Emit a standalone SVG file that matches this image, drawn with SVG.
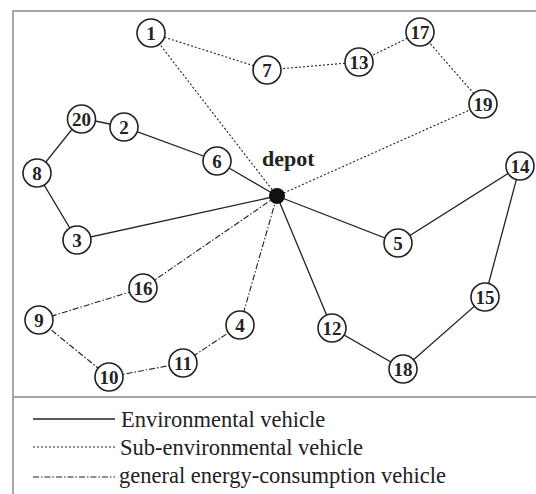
<svg xmlns="http://www.w3.org/2000/svg" width="536" height="494" viewBox="0 0 536 494">
<style>
.frame{stroke:#a6a6a6;stroke-width:2;fill:none}
.e{stroke:#222;stroke-width:1.3;fill:none}
.s{stroke:#222;stroke-width:1.1;fill:none;stroke-dasharray:2 2}
.g{stroke:#222;stroke-width:1.1;fill:none;stroke-dasharray:6 2 1.5 2}
.n circle{fill:#fff;stroke:#222;stroke-width:1.6}
.n text{font-family:"Liberation Serif","Times New Roman",serif;font-weight:bold;font-size:19px;text-anchor:middle;fill:#222}
.lg{font-family:"Liberation Serif","Times New Roman",serif;font-size:22.5px;fill:#222}
</style>
<rect width="536" height="494" fill="#fff"/>
<g id="frame">
<path class="frame" d="M13,494 V11 H536 M13,397 H536"/>
</g>
<g id="connectors">
<polyline class="e" points="277,196 217,161 124,127 81,118 37,173 77,240 277,196"/>
<polyline class="e" points="277,196 398,243 520,166 485,297 403,369 332,328 277,196"/>
<polyline class="s" points="277,196 151,33 267,70 359,62 420,32 483,104 277,196"/>
<polyline class="g" points="277,196 143,288 39,320 109,377 183,363 240,325 277,196"/>
</g>
<g id="depot">
<circle cx="277" cy="196" r="8" fill="#111"/>
<text x="262" y="166" font-family="Liberation Serif,Times New Roman,serif" font-weight="bold" font-size="22" fill="#222">depot</text>
</g>
<g id="n1" class="n"><circle cx="151" cy="33" r="14"/><text x="151" y="39.5">1</text></g>
<g id="n7" class="n"><circle cx="267" cy="70" r="14"/><text x="267" y="76.5">7</text></g>
<g id="n13" class="n"><circle cx="359" cy="62" r="14"/><text x="359" y="68.5">13</text></g>
<g id="n17" class="n"><circle cx="420" cy="32" r="14"/><text x="420" y="38.5">17</text></g>
<g id="n19" class="n"><circle cx="483" cy="104" r="14"/><text x="483" y="110.5">19</text></g>
<g id="n20" class="n"><circle cx="81.5" cy="119" r="14"/><text x="81.5" y="125.5">20</text></g>
<g id="n2" class="n"><circle cx="124" cy="127" r="14"/><text x="124" y="133.5">2</text></g>
<g id="n6" class="n"><circle cx="217" cy="161" r="14"/><text x="217" y="167.5">6</text></g>
<g id="n8" class="n"><circle cx="37" cy="173" r="14"/><text x="37" y="179.5">8</text></g>
<g id="n3" class="n"><circle cx="77" cy="240" r="14"/><text x="77" y="246.5">3</text></g>
<g id="n14" class="n"><circle cx="520" cy="166" r="14"/><text x="520" y="172.5">14</text></g>
<g id="n5" class="n"><circle cx="398" cy="243" r="14"/><text x="398" y="249.5">5</text></g>
<g id="n15" class="n"><circle cx="485" cy="297" r="14"/><text x="485" y="303.5">15</text></g>
<g id="n12" class="n"><circle cx="332" cy="328" r="14"/><text x="332" y="334.5">12</text></g>
<g id="n18" class="n"><circle cx="403" cy="369" r="14"/><text x="403" y="375.5">18</text></g>
<g id="n16" class="n"><circle cx="143" cy="288" r="14"/><text x="143" y="294.5">16</text></g>
<g id="n9" class="n"><circle cx="39" cy="320" r="14"/><text x="39" y="326.5">9</text></g>
<g id="n4" class="n"><circle cx="240" cy="325" r="14"/><text x="240" y="331.5">4</text></g>
<g id="n11" class="n"><circle cx="183" cy="363" r="14"/><text x="183" y="369.5">11</text></g>
<g id="n10" class="n"><circle cx="109" cy="377" r="14"/><text x="109" y="383.5">10</text></g>
<g id="legend">
<line class="e" x1="33" y1="419" x2="115" y2="419"/>
<line class="s" x1="33" y1="447" x2="115" y2="447" stroke-dasharray="1.5 1.5"/>
<line class="g" x1="33" y1="477" x2="115" y2="477"/>
<text class="lg" x="121" y="427">Environmental vehicle</text>
<text class="lg" x="120" y="455">Sub-environmental vehicle</text>
<text class="lg" x="119" y="483">general energy-consumption vehicle</text>
</g>
</svg>
